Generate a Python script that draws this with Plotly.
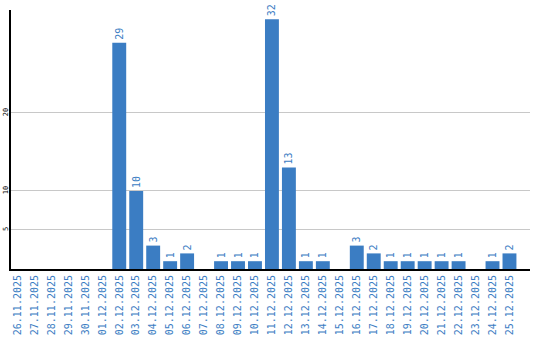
import plotly.graph_objects as go

dates = ["26.11.2025", "27.11.2025", "28.11.2025", "29.11.2025", "30.11.2025",
         "01.12.2025", "02.12.2025", "03.12.2025", "04.12.2025", "05.12.2025",
         "06.12.2025", "07.12.2025", "08.12.2025", "09.12.2025", "10.12.2025",
         "11.12.2025", "12.12.2025", "13.12.2025", "14.12.2025", "15.12.2025",
         "16.12.2025", "17.12.2025", "18.12.2025", "19.12.2025", "20.12.2025",
         "21.12.2025", "22.12.2025", "23.12.2025", "24.12.2025", "25.12.2025"]
values = [0, 0, 0, 0, 0, 0, 29, 10, 3, 1, 2, 0, 1, 1, 1, 32, 13, 1, 1, 0,
          3, 2, 1, 1, 1, 1, 1, 0, 1, 2]
y_ticks = [5, 10, 20]

blue = "#3b7dc3"
labels = [str(v) if v else "" for v in values]

fig = go.Figure(go.Bar(
    x=list(range(len(dates))), y=values, marker_color=blue, marker_line_width=0,
    text=labels, textposition="outside", textangle=-90,
    textfont=dict(family="DejaVu Sans Mono", size=10, color=blue),
    cliponaxis=False,
))
fig.update_layout(
    width=540, height=340, margin=dict(l=11, r=10, t=10, b=71),
    paper_bgcolor="white", plot_bgcolor="white", bargap=0.18,
    showlegend=False,
)
fig.update_xaxes(
    range=[-0.38, 30.21], tickvals=list(range(len(dates))), ticktext=dates,
    tickangle=-90, tickfont=dict(family="DejaVu Sans Mono", size=10, color=blue),
    showgrid=False, showline=True, linecolor="black", linewidth=2, ticks="",
    zeroline=False, automargin=False,
)
fig.update_yaxes(
    range=[0, 33.2], tickvals=y_ticks, tickangle=-90,
    tickfont=dict(family="DejaVu Sans Mono", size=7, color="black"),
    showgrid=True, gridcolor="#c8c8c8", gridwidth=1, showline=True,
    linecolor="black", linewidth=2, ticks="", zeroline=False,
    ticklabelstandoff=-2, automargin=False,
)
fig.write_html("out.html")
